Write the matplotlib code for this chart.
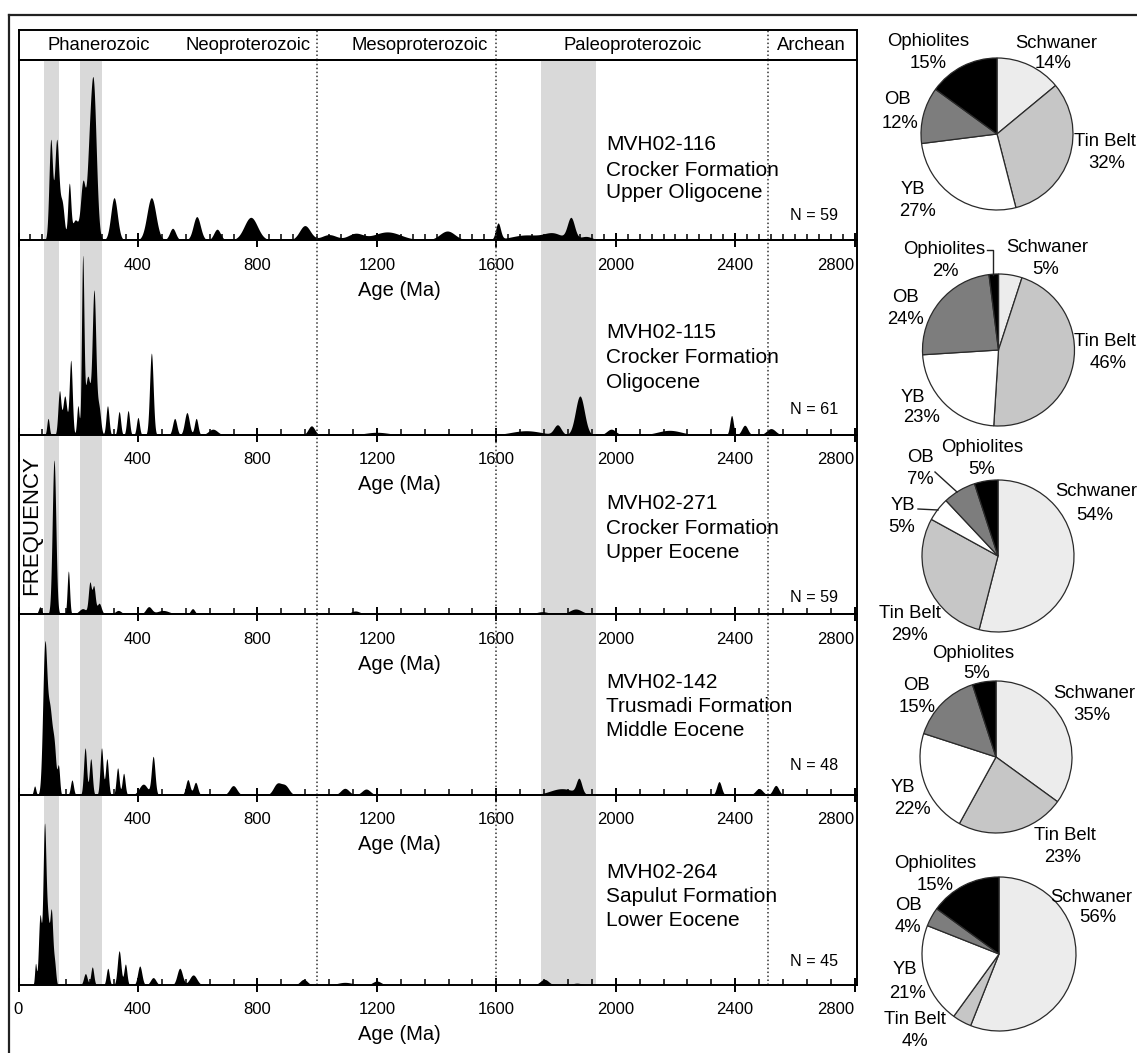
import numpy as np
import matplotlib
matplotlib.use('Agg')
import matplotlib.pyplot as plt
from matplotlib.lines import Line2D

plt.rcParams['font.family'] = ['Liberation Sans', 'DejaVu Sans']

# ---------------- data ----------------
samples = ['MVH02-116', 'MVH02-115', 'MVH02-271', 'MVH02-142', 'MVH02-264']
formations = ['Crocker Formation', 'Crocker Formation', 'Crocker Formation',
              'Trusmadi Formation', 'Sapulut Formation']
epochs = ['Upper Oligocene', 'Oligocene', 'Upper Eocene', 'Middle Eocene', 'Lower Eocene']
n_grains = [59, 61, 59, 48, 45]

periods = ['Phanerozoic', 'Neoproterozoic', 'Mesoproterozoic', 'Paleoproterozoic', 'Archean']
boundaries = [1000, 1600, 2510]
bands = [(85, 135), (205, 280), (1750, 1935)]
major_ticks = [0, 400, 800, 1200, 1600, 2000, 2400, 2800]
minor_steps = [40, 80, 80, 80, 80]

# probability-density peaks: age (Ma), relative height, width (Ma)
ages1 = [108, 128, 146, 170, 190, 216, 235, 250, 320, 445, 516, 597, 665, 778, 959, 1040,
         1128, 1235, 1436, 1606, 1700, 1790, 1850, 1900]
h1 = [0.55, 0.55, 0.20, 0.30, 0.11, 0.32, 0.24, 0.88, 0.235, 0.235, 0.065, 0.13, 0.06, 0.126,
      0.08, 0.03, 0.035, 0.045, 0.05, 0.09, 0.028, 0.035, 0.12, 0.02]
s1 = [6, 7, 7, 5, 10, 8, 7, 10, 11, 15, 10, 12, 11, 22, 18, 25, 25, 45, 25, 8, 50, 30, 12, 20]

ages2 = [99, 137, 155, 175, 199, 215, 232, 253, 269, 298, 337, 367, 400, 445, 523, 564, 595,
         651, 981, 1200, 1700, 1805, 1880, 1985, 2180, 2388, 2432, 2520]
h2 = [0.085, 0.22, 0.20, 0.38, 0.15, 0.87, 0.30, 0.72, 0.14, 0.15, 0.12, 0.125, 0.09, 0.42,
      0.085, 0.115, 0.085, 0.03, 0.047, 0.014, 0.022, 0.05, 0.20, 0.03, 0.024, 0.10, 0.05, 0.033]
s2 = [4, 5, 7, 5, 4, 4, 9, 6, 6, 5, 5, 5, 5, 6, 7, 8, 6, 15, 11, 40, 50, 12, 15, 15, 40, 6, 10, 15]

ages3 = [72, 119, 167, 215, 239, 252, 270, 334, 436, 484, 583, 1128, 1754, 1866]
h3 = [0.04, 0.86, 0.24, 0.03, 0.17, 0.15, 0.06, 0.02, 0.04, 0.02, 0.03, 0.017, 0.013, 0.028]
s3 = [5, 6, 4, 12, 5, 5, 7, 10, 10, 20, 7, 15, 20, 20]

ages4 = [54, 88, 105, 120, 134, 179, 223, 242, 278, 296, 332, 352, 418, 451, 567, 593, 719,
         866, 893, 1093, 1164, 1820, 1877, 2346, 2480, 2536]
h4 = [0.05, 0.80, 0.45, 0.22, 0.15, 0.083, 0.26, 0.20, 0.26, 0.20, 0.15, 0.12, 0.06, 0.21,
      0.085, 0.07, 0.052, 0.06, 0.05, 0.037, 0.033, 0.035, 0.08, 0.074, 0.036, 0.053]
s4 = [4, 7, 8, 6, 4, 5, 5, 5, 5, 5, 5, 5, 14, 6, 7, 7, 12, 13, 13, 14, 14, 40, 9, 8, 12, 10]

ages5 = [57, 72, 87, 98, 110, 121, 224, 247, 299, 337, 358, 406, 451, 540, 585, 955, 1093, 1200,
         1761, 1870]
h5 = [0.11, 0.36, 0.82, 0.30, 0.38, 0.10, 0.06, 0.095, 0.088, 0.18, 0.11, 0.10, 0.039, 0.088,
      0.053, 0.03, 0.014, 0.021, 0.03, 0.01]
s5 = [3, 5, 5, 5, 5, 4, 6, 5, 5, 6, 5, 7, 9, 9, 12, 12, 25, 14, 14, 15]

peak_sets = [(ages1, h1, s1), (ages2, h2, s2), (ages3, h3, s3), (ages4, h4, s4), (ages5, h5, s5)]

sources = ['Schwaner', 'Tin Belt', 'YB', 'OB', 'Ophiolites']
source_colors = ['#ececec', '#c6c6c6', '#ffffff', '#7d7d7d', '#000000']
pie1 = [14, 32, 27, 12, 15]
pie2 = [5, 46, 23, 24, 2]
pie3 = [54, 29, 5, 7, 5]
pie4 = [35, 23, 22, 15, 5]
pie5 = [56, 4, 21, 4, 15]
pies = [pie1, pie2, pie3, pie4, pie5]

# ---------------- layout ----------------
W, H = 1137, 1053
fig = plt.figure(figsize=(W / 100, H / 100), dpi=100)

def rect(x0, y0, x1, y1):
    return [x0 / W, 1 - y1 / H, (x1 - x0) / W, (y1 - y0) / H]

def fx(x):
    return x / W

def fy(y):
    return 1 - y / H

PX_L, PX_R = 18.5, 857.0
XMAX = 2808
tops = [60, 240, 435, 614, 795]
bottoms = [240, 435, 614, 795, 985]
sample_y = [(145, 170, 193), (333, 358, 383), (504, 528, 553), (683, 707, 731), (872, 896, 920)]
n_y = [215, 410, 597, 766, 962]

FS_TICK = 12
FS_AGE = 14.5
FS_SAMPLE = 15
FS_N = 11.6
FS_HEAD = 13.3
FS_PIE = 13.3
LW_FRAME = 1.4

# outer frame lines
fig.add_artist(Line2D([fx(9), fx(1137)], [fy(15), fy(15)], color='#222', lw=1.6))
fig.add_artist(Line2D([fx(9), fx(9)], [fy(15), fy(1053)], color='#222', lw=1.6))

# header
axh = fig.add_axes(rect(PX_L, 30, PX_R, tops[0]))
axh.set_xlim(0, XMAX)
axh.set_ylim(0, 1)
axh.set_xticks([])
axh.set_yticks([])
for sp in axh.spines.values():
    sp.set_linewidth(LW_FRAME)
for b in boundaries:
    axh.axvline(b, color='#333', ls=(0, (1, 1.6)), lw=1.1)
period_x = [270, 769, 1342, 2057, 2655]
for name, px in zip(periods, period_x):
    axh.text(px, 0.5, name, ha='center', va='center', fontsize=FS_HEAD)

x = np.linspace(0, XMAX, 8000)

for i in range(5):
    ax = fig.add_axes(rect(PX_L, tops[i], PX_R, bottoms[i]))
    ax.set_facecolor('none')
    ax.set_xlim(0, XMAX)
    ax.set_ylim(0, 1)
    hp = bottoms[i] - tops[i]
    for (a, b) in bands:
        ax.axvspan(a, b, color='#d9d9d9', lw=0, zorder=0)
    ages, hs, ss = peak_sets[i]
    y = np.zeros_like(x)
    for a, h, s in zip(ages, hs, ss):
        y += h * np.exp(-0.5 * ((x - a) / s) ** 2)
    ax.fill_between(x, 0, y, color='black', lw=0, zorder=2)
    for b in boundaries:
        ax.axvline(b, color='#333', ls=(0, (1, 1.6)), lw=1.1, zorder=3)
    ax.set_yticks([])
    ax.set_xticks(major_ticks)
    step = minor_steps[i]
    ax.set_xticks([m for m in range(step, 2800, step) if m % 400 != 0], minor=True)
    ax.tick_params(axis='x', which='major', direction='inout', length=10, width=1.4,
                   labelbottom=False)
    ax.tick_params(axis='x', which='minor', direction='in', length=4, width=1.1)
    for sp in ax.spines.values():
        sp.set_linewidth(LW_FRAME)
        sp.set_zorder(4)
    tr = ax.get_xaxis_transform()
    for t in major_ticks:
        if t == 0 and i < 4:
            continue
        ha = 'right' if t == 2800 else 'center'
        ax.text(t, -25 / hp, str(t), transform=tr, ha=ha, va='center', fontsize=FS_TICK)
    ax.text(1275, -50 / hp, 'Age (Ma)', transform=tr, ha='center', va='center',
            fontsize=FS_AGE)
    for txt, yy in zip([samples[i], formations[i], epochs[i]], sample_y[i]):
        ax.text(1968, (bottoms[i] - yy) / hp, txt, transform=tr, ha='left', va='center',
                fontsize=FS_SAMPLE, zorder=5)
    ax.text(2585, (bottoms[i] - n_y[i]) / hp, f'N = {n_grains[i]}', transform=tr,
            ha='left', va='center', fontsize=FS_N, zorder=5)

fig.text(fx(32), fy(525), 'FREQUENCY', rotation=90, ha='center', va='center', fontsize=16)

# ---------------- pies ----------------
pie_centers = [(997, 134, 76), (998.5, 350, 76), (998, 556, 76), (996, 757, 76), (999, 954, 77)]
for vals, (cx, cy, r) in zip(pies, pie_centers):
    pa = fig.add_axes(rect(cx - r, cy - r, cx + r, cy + r))
    wedges, _ = pa.pie(vals, colors=source_colors, startangle=90, counterclock=False,
                       radius=1, wedgeprops=dict(edgecolor='#2a2a2a', linewidth=0.9))
    for w in wedges:
        w.set_clip_on(False)
    pa.set_xlim(-1, 1)
    pa.set_ylim(-1, 1)
    pa.set_aspect('equal')
    pa.axis('off')

pie_labels = [
    [('Ophiolites', 928, 42, 'center'), ('15%', 928, 63, 'center'),
     ('Schwaner', 1056, 43, 'center'), ('14%', 1053, 64, 'center'),
     ('OB', 897, 100, 'center'), ('12%', 900, 123, 'center'),
     ('Tin Belt', 1136, 142, 'right'), ('32%', 1107, 163, 'center'),
     ('YB', 913, 190, 'center'), ('27%', 917, 212, 'center')],
    [('Ophiolites', 944, 250, 'center'), ('2%', 945, 271, 'center'),
     ('Schwaner', 1047, 248, 'center'), ('5%', 1046, 270, 'center'),
     ('OB', 905, 298, 'center'), ('24%', 905, 320, 'center'),
     ('Tin Belt', 1136, 342, 'right'), ('46%', 1108, 363, 'center'),
     ('YB', 913, 397, 'center'), ('23%', 922, 418, 'center')],
    [('OB', 920, 458, 'center'), ('7%', 920, 480, 'center'),
     ('Ophiolites', 982, 447, 'center'), ('5%', 982, 470, 'center'),
     ('YB', 903, 505, 'center'), ('5%', 902, 527, 'center'),
     ('Schwaner', 1096, 492, 'center'), ('54%', 1095, 515, 'center'),
     ('Tin Belt', 910, 613, 'center'), ('29%', 910, 635, 'center')],
    [('Ophiolites', 973, 653, 'center'), ('5%', 977, 673, 'center'),
     ('OB', 916, 685, 'center'), ('15%', 917, 707, 'center'),
     ('Schwaner', 1094, 693, 'center'), ('35%', 1092, 715, 'center'),
     ('YB', 903, 787, 'center'), ('22%', 912, 810, 'center'),
     ('Tin Belt', 1065, 835, 'center'), ('23%', 1063, 858, 'center')],
    [('Ophiolites', 935, 863, 'center'), ('15%', 935, 885, 'center'),
     ('OB', 908, 905, 'center'), ('4%', 908, 927, 'center'),
     ('Schwaner', 1050, 897, 'left'), ('56%', 1098, 918, 'center'),
     ('YB', 905, 970, 'center'), ('21%', 907, 993, 'center'),
     ('Tin Belt', 915, 1020, 'center'), ('4%', 915, 1042, 'center')],
]
for labs in pie_labels:
    for txt, px, py, ha in labs:
        fig.text(fx(px), fy(py), txt, ha=ha, va='center', fontsize=FS_PIE)

leaders = [
    [(987, 993, 993), (250, 250, 275)],
    [(935, 957), (472, 492)],
    [(918, 938), (509, 510)],
]
for xs, ys in leaders:
    fig.add_artist(Line2D([fx(v) for v in xs], [fy(v) for v in ys], color='#222', lw=1.0))

fig.savefig('out.png', dpi=100)
